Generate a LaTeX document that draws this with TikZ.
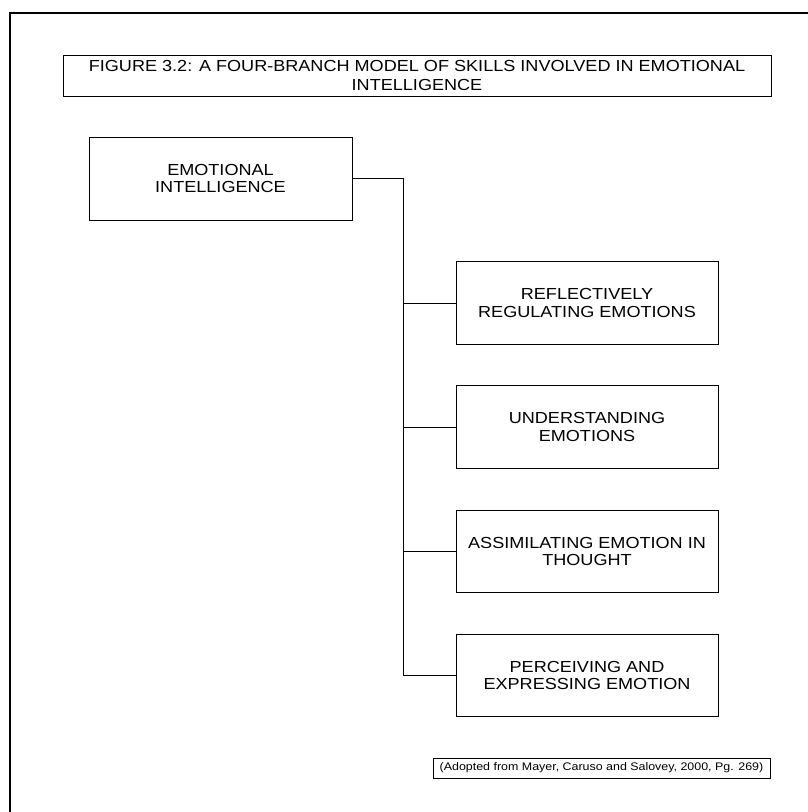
\documentclass[tikz,border=0pt]{standalone}
\usepackage{fontspec}
\setmainfont{Liberation Sans}[FakeStretch=1.13]
\newcommand\boxfont{\fontsize{16}{17.5}\selectfont}
\newcommand\titlefont{\fontsize{16}{19}\selectfont}
\newcommand\notefont{\fontsize{11}{12}\selectfont}
\begin{document}
\begin{tikzpicture}[x=1pt,y=-1pt,
  frame/.style={line width=2pt},
  box/.style={draw, line width=1pt, align=center, inner sep=0pt, font=\boxfont},
  branchbox/.style={box, minimum width=262pt, minimum height=82.5pt},
  link/.style={line width=1pt}]
\useasboundingbox (0,0) rectangle (808,812);

% page frame (top and left edges)
\draw[frame] (10,812) -- (10,13) -- (808,13);

% caption
\node[box, font=\titlefont, minimum width=708pt, minimum height=41pt] (title) at (417,75.5)
  {FIGURE 3.2: A FOUR-BRANCH MODEL OF SKILLS INVOLVED IN EMOTIONAL\\INTELLIGENCE};

% root
\node[box, minimum width=263pt, minimum height=83pt] (ei) at (220.5,178.5)
  {EMOTIONAL\\INTELLIGENCE};

% branches
\node[branchbox] (rr) at (587,303) {REFLECTIVELY\\REGULATING EMOTIONS};
\node[branchbox] (ue) at (587,427) {UNDERSTANDING\\EMOTIONS};
\node[branchbox] (ae) at (587,551.5) {ASSIMILATING EMOTION IN\\THOUGHT};
\node[branchbox] (pe) at (587,675.5) {PERCEIVING AND\\EXPRESSING EMOTION};

% trunk
\coordinate (jt) at (403,178.5);
\draw[link] (ei.east) -- (jt) -- (jt |- pe.west) -- (pe.west);
\draw[link] (rr.west -| jt) -- (rr.west);
\draw[link] (ue.west -| jt) -- (ue.west);
\draw[link] (ae.west -| jt) -- (ae.west);

% source note
\node[box, font=\notefont, minimum width=337pt, minimum height=20pt] (src) at (601.5,768)
  {(Adopted from Mayer, Caruso and Salovey, 2000, Pg. 269)};
\end{tikzpicture}
\end{document}
